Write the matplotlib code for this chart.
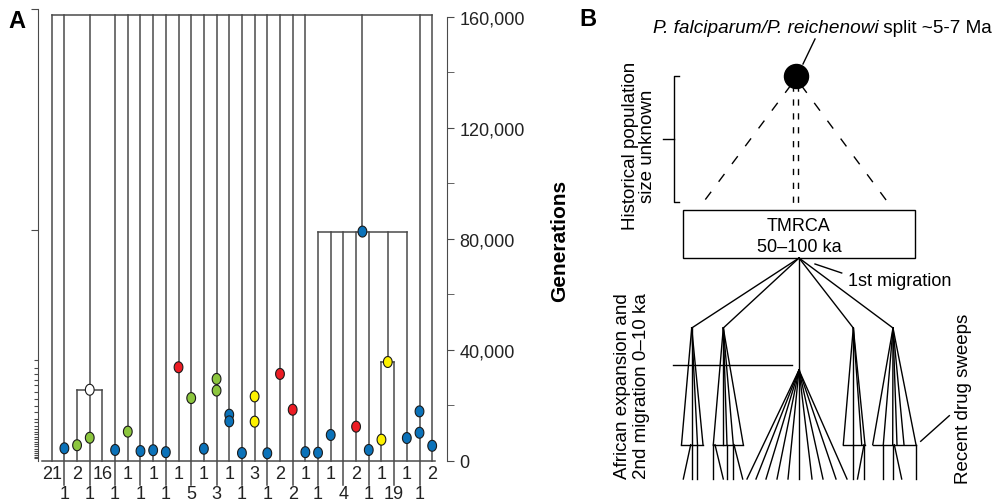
import matplotlib.pyplot as plt
import numpy as np
from matplotlib.path import Path

plt.rcParams['font.family'] = ['Liberation Sans', 'DejaVu Sans']

W, H = 1003, 502

# ---------------- panel A data ----------------
counts = [21, 1, 2, 1, 16, 1, 1, 1, 1, 1, 1, 5, 1, 3, 1, 1, 3, 1, 2, 2, 1, 1, 1, 4, 2, 1, 1, 19, 1, 1, 2]
dot_leaf = [1, 2, 3, 5, 6, 7, 8, 9, 10, 11, 12, 13, 13, 14, 14, 15, 16, 16, 17, 18, 19,
            20, 21, 22, 24, 25, 26, 28, 29, 29, 30]
dot_gen = [4400, 5500, 8200, 3800, 10400, 3400, 3700, 3000, 33600, 22500, 4250, 29400, 25200,
           16500, 14100, 2700, 23100, 14000, 2600, 31200, 18300, 3000, 2800, 9200, 12200,
           3800, 7500, 8100, 10000, 17700, 5300]
dot_col = ['b', 'g', 'g', 'b', 'g', 'b', 'b', 'b', 'r', 'g', 'b', 'g', 'g', 'b', 'b', 'b',
           'y', 'y', 'b', 'r', 'r', 'b', 'b', 'b', 'r', 'b', 'y', 'b', 'b', 'b', 'b']
palette = {'b': '#0b72b9', 'g': '#8cc63e', 'r': '#ec1c24', 'y': '#fef200', 'w': '#ffffff'}

# clades: member leaves, bracket height, node position, node colour, where parent line ends
clade_members = [[2, 3, 4], [26, 27], [21, 22, 23, 24, 25, 26.5, 28]]
clade_gen = [25500, 35500, 82500]
clade_node = [3, 26.5, 24.5]
clade_col = ['w', 'y', 'b']
clade_parent = [160500, 82500, 160500]
top_gen = 160500

left_major = [83000, 162700]
left_minor = [36200, 33300, 31200, 29000, 27200, 24700, 22100, 19800, 17300, 15000, 13900,
              12400, 11400, 10300, 9500, 8500, 7700, 6700, 5900, 5200, 4100, 3500, 2700,
              2000, 1300, 800]
right_major = [0, 40000, 80000, 120000, 160000]
right_minor = [20000, 60000, 100000, 140000]

# ---------------- panel B data (schematic coordinates) ----------------
root = (799, 259)
apex_x = [691.7, 723.3, 853.3, 893.0]
apex_y = 329
fan_tips = [[681.5, 691.7, 697.5, 703.0],
            [713.3, 723.3, 727.0, 733.3, 743.3],
            [843.3, 853.3, 861.7, 865.0],
            [872.7, 883.3, 892.7, 897.0, 904.0, 916.0]]
bar_y = 445.7
leaf_y = 480
low_top = [[690.7, 691.7, 697.3], [713.3, 715.0, 726.7, 732.7, 734.0],
           [853.3, 864.0, 864.0], [883.3, 892.7, 894.3, 916.0]]
low_bot = [[683.3, 691.7, 697.3], [713.3, 723.3, 726.7, 732.7, 742.7],
           [853.3, 857.5, 864.0], [883.3, 892.7, 901.7, 916.0]]
centre_apex = (799, 371)
centre_tips = [747, 756, 766, 777, 788, 799, 812, 823, 836, 847]

fig = plt.figure(figsize=(W / 100, H / 100), dpi=100)

# ---------------- panel A ----------------
lc = '#4a4a4a'
lw = 1.1
ax = fig.add_axes([38 / W, 0, 409 / W, 494 / H])
ax.set_xlim(-1.080, 31.168)
ax.set_ylim(-14596, 163440)
for s in ['top', 'right', 'bottom']:
    ax.spines[s].set_visible(False)
ax.spines['left'].set_bounds(0, 162700)
ax.spines['left'].set_color(lc)
ax.set_xticks([])
ax.set_yticks(left_major)
ax.set_yticks(left_minor, minor=True)
ax.tick_params(axis='y', which='major', length=5, color=lc, labelleft=False)
ax.tick_params(axis='y', which='minor', length=3, color=lc, width=0.8)

leaf_top = {}
for k, mem in enumerate(clade_members):
    for m in mem:
        leaf_top[m] = clade_gen[k]

for i, c in enumerate(counts):
    bottom = -8800 if i % 2 else 0
    ax.plot([i, i], [bottom, leaf_top.get(i, top_gen)], color=lc, lw=lw, zorder=1)
    ax.text(i, -12000 if i % 2 else -4600, str(c), ha='center', va='center', fontsize=13,
            color='#222222')

for k, mem in enumerate(clade_members):
    ax.plot([min(mem), max(mem)], [clade_gen[k]] * 2, color=lc, lw=lw, zorder=1)
    ax.plot([clade_node[k]] * 2, [clade_gen[k], clade_parent[k]], color=lc, lw=lw, zorder=1)

ax.plot([0, len(counts) - 1], [top_gen, top_gen], color=lc, lw=lw, zorder=1)
ax.plot([-0.765, 30.22], [0, 0], color=lc, lw=lw, zorder=1)

t = np.linspace(0, 2 * np.pi, 60)
oval = Path(np.column_stack([0.8 * np.cos(t), np.sin(t)]))
ax.scatter(dot_leaf, dot_gen, c=[palette[c] for c in dot_col], marker=oval, s=62,
           edgecolors='#1a1a1a', linewidths=0.8, zorder=3)
ax.scatter(clade_node, clade_gen, c=[palette[c] for c in clade_col], marker=oval, s=62,
           edgecolors='#1a1a1a', linewidths=0.8, zorder=3)

axr = ax.twinx()
axr.set_ylim(ax.get_ylim())
for s in ['top', 'left', 'bottom']:
    axr.spines[s].set_visible(False)
axr.spines['right'].set_bounds(0, 160000)
axr.spines['right'].set_color(lc)
axr.set_yticks(right_major)
axr.set_yticklabels([f'{v:,}' for v in right_major])
axr.set_yticks(right_minor, minor=True)
axr.tick_params(axis='y', which='both', length=5, color=lc, labelsize=13, pad=4,
                labelcolor='#222222')

fig.text(560 / W, 1 - 241 / H, 'Generations', rotation=90, ha='center', va='center',
         fontsize=15, fontweight='bold')
fig.text(17 / W, 1 - 22 / H, 'A', ha='center', va='center', fontsize=17, fontweight='bold')
fig.text(587.5 / W, 1 - 20 / H, 'B', ha='center', va='center', fontsize=17, fontweight='bold')

# ---------------- panel B ----------------
bx = fig.add_axes([580 / W, 0, 423 / W, 1])
bx.set_xlim(580, 1003)
bx.set_ylim(502, 0)
bx.axis('off')
k = 'black'
blw = 1.0

t1 = bx.text(652.7, 32.7, 'P. falciparum/P. reichenowi', style='italic', fontsize=13.7,
             ha='left', va='baseline')
bx.annotate(' split ~5-7 Ma', xy=(1, 0), xycoords=t1, ha='left', va='bottom', fontsize=13.7)
bx.plot([815, 803], [40, 65], color=k, lw=blw)
bx.scatter([796], [77.3], s=300, color=k, zorder=3)

# bracket for historical population size
bx.plot([679, 674.3, 674.3, 679], [77.3, 77.3, 202.7, 202.7], color=k, lw=blw)
bx.plot([662.7, 674.3], [140, 140], color=k, lw=blw)
bx.text(639, 146, 'Historical population\nsize unknown', rotation=90, ha='center',
        va='center', fontsize=13.5, linespacing=1.0, multialignment='center')

bx.plot([791, 699], [86, 209], color=k, lw=blw, linestyle=(0, (7, 9)))
bx.plot([801, 892], [86, 209], color=k, lw=blw, linestyle=(0, (7, 9)))
for xx in [793.3, 798.3]:
    bx.plot([xx, xx], [86, 211], color=k, lw=blw, linestyle=(0, (4.5, 5.5)))

bx.add_patch(plt.Rectangle((683.3, 210.7), 231.7, 48.3, fill=False, edgecolor=k, lw=blw))
bx.text(799, 227, 'TMRCA', ha='center', va='center', fontsize=13)
bx.text(799, 248, '50\u2013100 ka', ha='center', va='center', fontsize=13)

# first migration branches
for ax_x in apex_x:
    bx.plot([root[0], ax_x], [root[1], apex_y], color=k, lw=blw)
bx.plot([root[0], centre_apex[0]], [root[1], centre_apex[1]], color=k, lw=blw)
bx.plot([815, 841.7], [265, 274], color=k, lw=blw)
bx.text(848.3, 281.7, '1st migration', ha='left', va='center', fontsize=13)

bx.plot([672.7, 791.7], [366, 366], color=k, lw=blw)

for j, x0 in enumerate(apex_x):
    for tip in fan_tips[j]:
        bx.plot([x0, tip], [apex_y, bar_y], color=k, lw=blw)
    bx.plot([min(fan_tips[j]), max(fan_tips[j])], [bar_y, bar_y], color=k, lw=blw)
    for a, b in zip(low_top[j], low_bot[j]):
        bx.plot([a, b], [bar_y, leaf_y], color=k, lw=blw)
for tip in centre_tips:
    bx.plot([centre_apex[0], tip], [centre_apex[1], leaf_y], color=k, lw=blw)

bx.plot([920.7, 949.3], [442.3, 416.7], color=k, lw=blw)
bx.text(963.3, 399, 'Recent drug sweeps', rotation=90, ha='center', va='center', fontsize=13.5)
bx.text(632, 386.5, 'African expansion and\n2nd migration 0\u201310 ka', rotation=90,
        ha='center', va='center', fontsize=13.5, linespacing=1.2, multialignment='center')

fig.savefig('out.png', dpi=100)
